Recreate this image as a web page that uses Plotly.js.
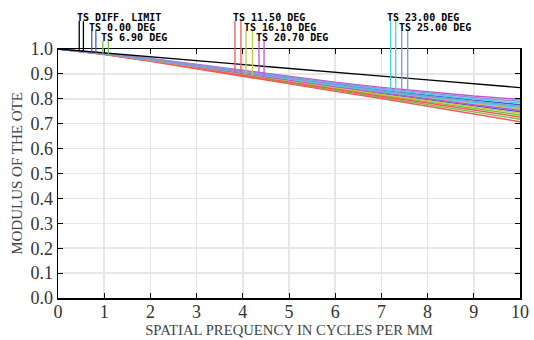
<!DOCTYPE html>
<html>
<head>
<meta charset="utf-8">
<script src="https://cdn.plot.ly/plotly-3.0.1.min.js"></script>
<style>html,body{margin:0;padding:0;background:#fff;}#chart{width:534px;height:340px;}</style>
</head>
<body>
<div id="chart"></div>
<script>
// Spatial frequency samples (cycles per mm)
const freq = [0, 1, 2, 3, 4, 5, 6, 7, 8, 9, 10];

// Diffraction limit
const diffLimit = [1.000, 0.984, 0.969, 0.953, 0.938, 0.922, 0.907, 0.891, 0.876, 0.860, 0.845];

// Field MTF curves (T = tangential, S = sagittal)
const f000T = [1.000, 0.982, 0.959, 0.934, 0.908, 0.882, 0.858, 0.835, 0.814, 0.794, 0.776];
const f000S = [1.000, 0.980, 0.956, 0.928, 0.901, 0.873, 0.846, 0.821, 0.796, 0.771, 0.748];
const f690T = [1.000, 0.980, 0.954, 0.925, 0.898, 0.869, 0.841, 0.815, 0.788, 0.761, 0.735];
const f690S = [1.000, 0.979, 0.952, 0.922, 0.894, 0.863, 0.834, 0.806, 0.777, 0.748, 0.718];
const f1150T = [1.000, 0.979, 0.953, 0.924, 0.896, 0.866, 0.838, 0.810, 0.783, 0.755, 0.727];
const f1150S = [1.000, 0.978, 0.951, 0.920, 0.892, 0.860, 0.830, 0.801, 0.771, 0.740, 0.708];
const f1610T = [1.000, 0.981, 0.957, 0.930, 0.904, 0.877, 0.852, 0.827, 0.804, 0.781, 0.760];
const f1610S = [1.000, 0.980, 0.955, 0.927, 0.900, 0.871, 0.844, 0.818, 0.792, 0.767, 0.742];
const f2070T = [1.000, 0.983, 0.962, 0.938, 0.913, 0.889, 0.867, 0.846, 0.827, 0.811, 0.798];
const f2070S = [1.000, 0.981, 0.957, 0.929, 0.903, 0.875, 0.849, 0.824, 0.800, 0.776, 0.754];
const f2300T = [1.000, 0.982, 0.960, 0.935, 0.909, 0.884, 0.861, 0.838, 0.817, 0.799, 0.783];
const f2300S = [1.000, 0.981, 0.958, 0.931, 0.905, 0.878, 0.853, 0.829, 0.806, 0.785, 0.765];
const f2500T = [1.000, 0.981, 0.959, 0.932, 0.907, 0.880, 0.856, 0.832, 0.810, 0.789, 0.770];
const f2500S = [1.000, 0.982, 0.961, 0.936, 0.911, 0.886, 0.864, 0.842, 0.822, 0.805, 0.790];

// Legend labels
const labels = ["TS DIFF. LIMIT", "TS 0.00 DEG", "TS 6.90 DEG", "TS 11.50 DEG",
                "TS 16.10 DEG", "TS 20.70 DEG", "TS 23.00 DEG", "TS 25.00 DEG"];

const xTitle = "SPATIAL PREQUENCY IN CYCLES PER MM";
const yTitle = "MODULUS OF THE OTE";

// ---- styling / placement (not data) ----
const colors = ["#000000", "#3f5fd0", "#74c043", "#f05a5a", "#c9c83a", "#c055cf", "#45d3e3", "#8a95d6"];
const groups = [
  [diffLimit, diffLimit], [f000T, f000S], [f690T, f690S], [f1150T, f1150S],
  [f1610T, f1610S], [f2070T, f2070S], [f2300T, f2300S], [f2500T, f2500S]
];
// label left x (data units), label center y (paper), marker line x's, marker line top (paper)
const place = [
  {x: 0.40, y: 1.127, lx: [0.46, 0.55], top: 1.112},
  {x: 0.66, y: 1.088, lx: [0.73, 0.82], top: 1.074},
  {x: 0.90, y: 1.047, lx: [0.97, 1.09], top: 1.032},
  {x: 3.76, y: 1.127, lx: [3.83, 3.96], top: 1.112},
  {x: 4.01, y: 1.088, lx: [4.07, 4.21], top: 1.072},
  {x: 4.26, y: 1.047, lx: [4.35, 4.46], top: 1.032},
  {x: 7.11, y: 1.127, lx: [7.20, 7.31], top: 1.112},
  {x: 7.35, y: 1.088, lx: [7.44, 7.57], top: 1.072}
];

function interp(xs, ys, x) {
  for (let i = 0; i < xs.length - 1; i++) {
    if (x >= xs[i] && x <= xs[i + 1]) {
      const t = (x - xs[i]) / (xs[i + 1] - xs[i]);
      return ys[i] + t * (ys[i + 1] - ys[i]);
    }
  }
  return ys[ys.length - 1];
}

const traces = [];
// draw field curves first, diffraction limit on top
for (let g = 1; g < groups.length; g++) {
  for (let k = 0; k < 2; k++) {
    traces.push({x: freq, y: groups[g][k], mode: "lines", type: "scatter",
      line: {color: colors[g], width: 1.4}, hoverinfo: "skip", showlegend: false});
  }
}
traces.push({x: freq, y: diffLimit, mode: "lines", type: "scatter",
  line: {color: colors[0], width: 1.4}, hoverinfo: "skip", showlegend: false});

const shapes = [];
const annotations = [];
for (let g = 0; g < groups.length; g++) {
  const p = place[g];
  annotations.push({text: labels[g], xref: "x", yref: "paper", x: p.x, y: p.y,
    xanchor: "left", yanchor: "middle", showarrow: false, borderpad: 0,
    font: {family: "DejaVu Sans Mono", size: 10, color: "#000", weight: "bold"}});
  for (let k = 0; k < 2; k++) {
    const lx = p.lx[k];
    shapes.push({type: "line", xref: "x", yref: "paper", x0: lx, x1: lx,
      y0: p.top, y1: interp(freq, groups[g][k], lx),
      line: {color: colors[g], width: 1.3}});
  }
}

const layout = {
  width: 534, height: 340,
  margin: {l: 58, r: 14, t: 49, b: 42},
  paper_bgcolor: "#fff", plot_bgcolor: "#fff",
  showlegend: false,
  font: {family: "Liberation Serif", color: "#333"},
  xaxis: {
    range: [0, 10], dtick: 1, tick0: 0,
    showgrid: true, gridcolor: "#e6e6e6", gridwidth: 1.5, zeroline: false,
    showline: true, linecolor: "#000", linewidth: 1.5, mirror: "ticks",
    ticks: "inside", ticklen: 5, tickcolor: "#000", tickwidth: 1,
    ticklabelstandoff: -3,
    tickfont: {family: "Liberation Serif", size: 18, color: "#333"},
    title: {text: xTitle, font: {family: "Liberation Serif", size: 14.7, color: "#444"}, standoff: 0}
  },
  yaxis: {
    range: [0, 1], dtick: 0.1, tick0: 0, tickformat: ".1f",
    showgrid: true, gridcolor: "#e6e6e6", gridwidth: 1.5, zeroline: false,
    showline: true, linecolor: "#000", linewidth: 1.5, mirror: "ticks",
    ticks: "inside", ticklen: 5, tickcolor: "#000", tickwidth: 1,
    tickfont: {family: "Liberation Serif", size: 18, color: "#333"},
    title: {text: yTitle, font: {family: "Liberation Serif", size: 15, color: "#444"}, standoff: 4}
  },
  shapes: shapes,
  annotations: annotations
};

Plotly.newPlot("chart", traces, layout, {displayModeBar: false, staticPlot: true});
</script>
</body>
</html>
